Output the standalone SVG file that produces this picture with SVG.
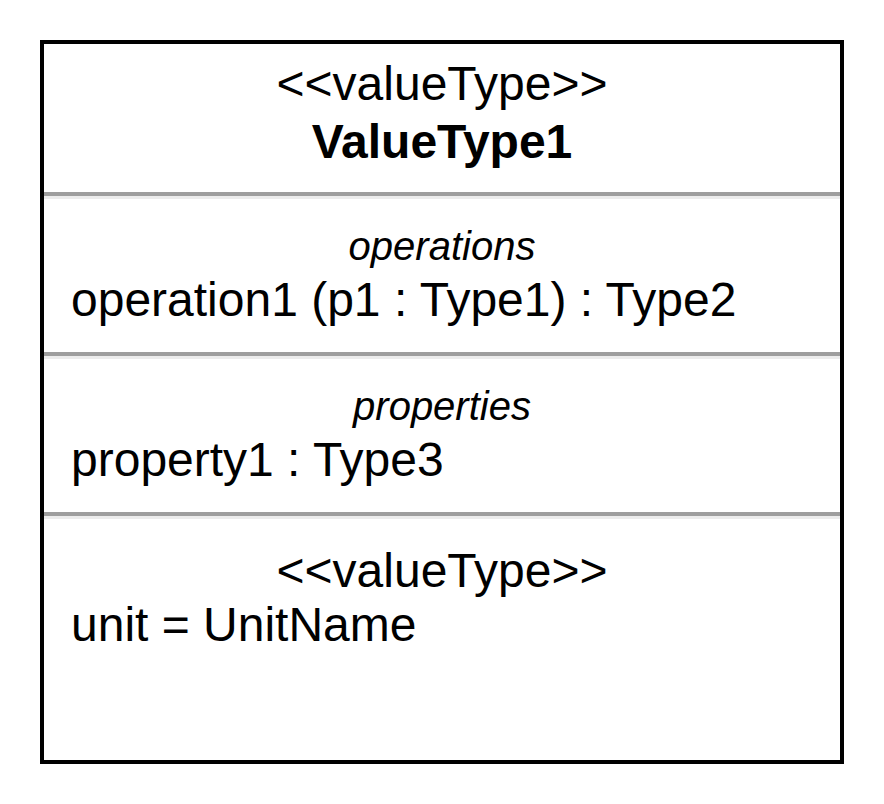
<svg xmlns="http://www.w3.org/2000/svg" width="884" height="804" viewBox="0 0 884 804">
  <style>
    text { font-family: "Liberation Sans", Arial, Helvetica, sans-serif; fill: #000000; }
    .big { font-size: 48px; }
    .title { font-size: 48px; font-weight: bold; }
    .section { font-size: 40px; font-style: italic; }
    .mid { text-anchor: middle; }
    .divider { stroke: #9e9e9e; stroke-width: 4; }
    .divider-shadow { stroke: #ececec; stroke-width: 3; }
  </style>
  <rect x="0" y="0" width="884" height="804" fill="#ffffff"/>
  <g id="valueType1">
    <rect x="42" y="42" width="800" height="720" fill="#ffffff" stroke="#000000" stroke-width="4"/>
    <!-- compartment dividers -->
    <line class="divider-shadow" x1="44" y1="197.5" x2="840" y2="197.5"/>
    <line class="divider" x1="44" y1="194" x2="840" y2="194"/>
    <line class="divider-shadow" x1="44" y1="357.5" x2="840" y2="357.5"/>
    <line class="divider" x1="44" y1="354" x2="840" y2="354"/>
    <line class="divider-shadow" x1="44" y1="517.5" x2="840" y2="517.5"/>
    <line class="divider" x1="44" y1="514" x2="840" y2="514"/>
    <!-- header -->
    <text class="big mid" x="442" y="100">&lt;&lt;valueType&gt;&gt;</text>
    <text class="title mid" x="442" y="158">ValueType1</text>
    <!-- operations -->
    <text class="section mid" x="442" y="260">operations</text>
    <text class="big" x="71" y="316">operation1 (p1 : Type1) : Type2</text>
    <!-- properties -->
    <text class="section mid" x="442" y="420">properties</text>
    <text class="big" x="71" y="476">property1 : Type3</text>
    <!-- value type -->
    <text class="big mid" x="442" y="587">&lt;&lt;valueType&gt;&gt;</text>
    <text class="big" x="71" y="641">unit = UnitName</text>
  </g>
</svg>
